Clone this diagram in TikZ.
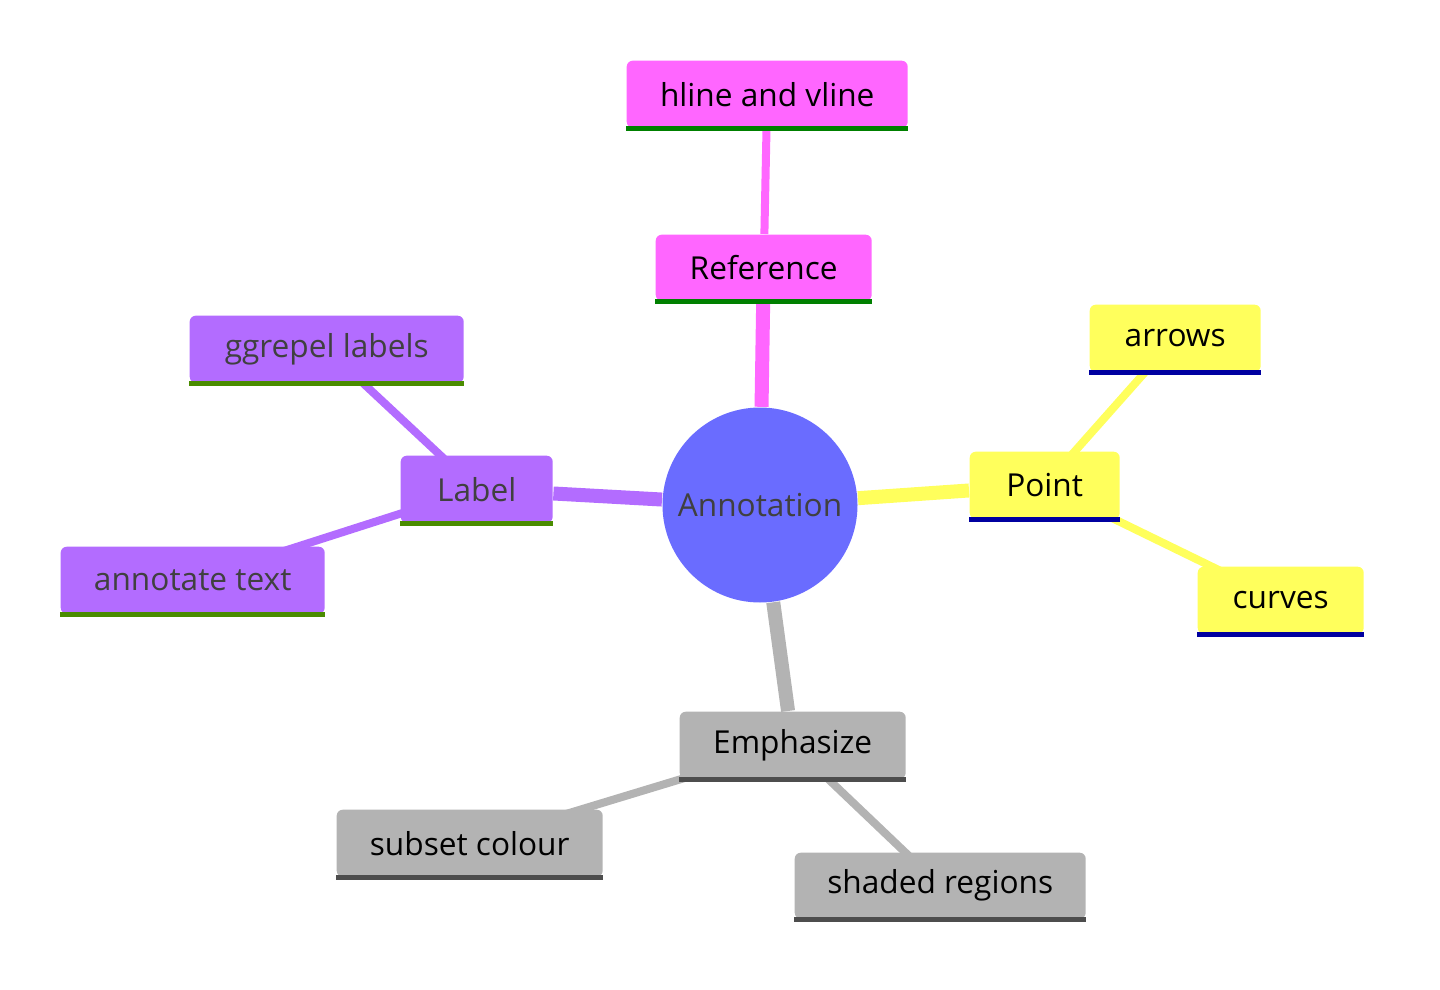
\documentclass[tikz,border=0pt]{standalone}
\usepackage{fontspec}
\setmainfont{Open Sans}
\usetikzlibrary{backgrounds}

\definecolor{rootblue}{HTML}{6A6CFF}
\definecolor{refpink}{HTML}{FF66FF}
\definecolor{ptyellow}{HTML}{FFFF5C}
\definecolor{lblpurple}{HTML}{B36CFF}
\definecolor{emgray}{HTML}{B3B3B3}
\definecolor{refline}{HTML}{008000}
\definecolor{ptline}{HTML}{0000A0}
\definecolor{lblline}{HTML}{4A8C00}
\definecolor{emline}{HTML}{4D4D4D}

\tikzset{
  leaf/.style={rectangle, rounded corners=0.06cm, inner sep=0pt, font=\fontsize{9}{11}\selectfont},
  root/.style={circle, fill=rootblue, minimum size=1.95cm, inner sep=0pt, text=black!75, font=\fontsize{9}{11}\selectfont},
  trunk/.style={line width=0.14cm},
  twig/.style={line width=0.08cm},
  underline/.style={line width=0.05cm}
}

\newcommand{\mmnode}[7]{% name, x1, y1, x2, y2, fill, text
  \node[leaf, fill=#6, minimum width=#4cm-#2cm, minimum height=#5cm-#3cm, anchor=north west] (#1) at (#2,-#3) {#7};
}

\begin{document}
\begin{tikzpicture}
\useasboundingbox (0,0) rectangle (14.4,-9.9);

% root
\node[root] (annot) at (7.60,-5.05) {Annotation};

% Reference branch
\mmnode{ref}{6.55}{2.34}{8.71}{3.00}{refpink}{Reference}
\mmnode{hline}{6.26}{0.60}{9.07}{1.27}{refpink}{hline and vline}

% Point branch
\mmnode{point}{9.69}{4.51}{11.19}{5.18}{ptyellow}{Point}
\mmnode{arrows}{10.89}{3.04}{12.60}{3.71}{ptyellow}{arrows}
\mmnode{curves}{11.97}{5.66}{13.63}{6.33}{ptyellow}{curves}

% Label branch
\mmnode{label}{4.00}{4.55}{5.52}{5.22}{lblpurple}{\color{black!75}Label}
\mmnode{ggrepel}{1.89}{3.15}{4.63}{3.82}{lblpurple}{\color{black!75}ggrepel labels}
\mmnode{annot_text}{0.60}{5.46}{3.24}{6.13}{lblpurple}{\color{black!75}annotate text}

% Emphasize branch
\mmnode{emph}{6.79}{7.11}{9.05}{7.78}{emgray}{Emphasize}
\mmnode{subset}{3.36}{8.09}{6.02}{8.76}{emgray}{subset colour}
\mmnode{shaded}{7.94}{8.52}{10.85}{9.18}{emgray}{shaded regions}

% underlines
\foreach \n/\c in {ref/refline, hline/refline, point/ptline, arrows/ptline, curves/ptline,
  label/lblline, ggrepel/lblline, annot_text/lblline, emph/emline, subset/emline, shaded/emline}
  \draw[underline, \c] (\n.south west) -- (\n.south east);

% connectors
\begin{scope}[on background layer]
  \draw[trunk, refpink] (annot) -- (ref);
  \draw[trunk, ptyellow] (annot) -- (point);
  \draw[trunk, lblpurple] (annot) -- (label);
  \draw[trunk, emgray] (annot) -- (emph);
  \draw[twig, refpink] (ref) -- (hline);
  \draw[twig, ptyellow] (point.center) -- (arrows.center);
  \draw[twig, ptyellow] (point.center) -- (curves.center);
  \draw[twig, lblpurple] (label.center) -- (ggrepel.center);
  \draw[twig, lblpurple] (label.center) -- (annot_text.center);
  \draw[twig, emgray] (emph.center) -- (subset.center);
  \draw[twig, emgray] (emph.center) -- (shaded.center);
\end{scope}
\end{tikzpicture}
\end{document}
